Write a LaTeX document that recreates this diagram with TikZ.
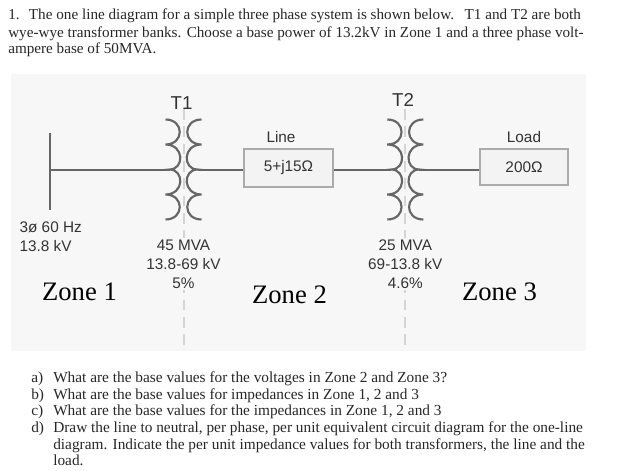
\documentclass[tikz,border=0pt]{standalone}
\usepackage{fontspec}
\usepackage{tikz}
\setmainfont{Liberation Serif}
\setsansfont{Liberation Sans}
\definecolor{panelgray}{HTML}{F7F7F7}
\definecolor{boxgray}{HTML}{F3F3F3}
\definecolor{edgegray}{HTML}{ABABAB}
\definecolor{wiregray}{HTML}{666666}
\definecolor{dashgray}{HTML}{D4D4D4}
\definecolor{labelgray}{HTML}{333333}

\begin{document}
\begin{tikzpicture}[x=0.75pt,y=-0.75pt,
    wire/.style={wiregray,line width=1.5pt},
    coil/.style={wiregray,line width=1.6pt},
    corebar/.style={dashgray,line width=1.5pt,dash pattern=on 8pt off 5pt},
    valuebox/.style={draw=edgegray,fill=boxgray,line width=0.8pt,inner sep=0pt,font=\sffamily\fontsize{11.5}{13}\selectfont,text=labelgray},
    caption/.style={font=\sffamily\fontsize{11.5}{13}\selectfont,text=labelgray,inner sep=1pt},
    rating/.style={caption,align=center,fill=panelgray,font=\sffamily\fontsize{11.5}{14.2}\selectfont},
    zonename/.style={font=\rmfamily\fontsize{20}{22}\selectfont,text=black,inner sep=0pt},
    bodyline/.style={anchor=base west,inner sep=0pt,font=\rmfamily\fontsize{11.5}{13}\selectfont,text=black!85},
    introline/.style={bodyline,font=\rmfamily\fontsize{11.38}{13}\selectfont}]
    \useasboundingbox (0,0) rectangle (633,471);
    \fill[panelgray] (11,74) rectangle (586,351);

    % transformer cores
    \draw[corebar] (183.5,109) -- (183.5,351);
    \draw[corebar] (405.3,109) -- (405.3,351);

    % transformer windings
    \foreach \tname/\tx in {t1/183.5,t2/405.3} {
        \coordinate (\tname pri) at (\tx-14,169.5);
        \coordinate (\tname sec) at (\tx+14,169.5);
        \draw[coil] (\tx-18,119.5) .. controls (\tx+1,119.5) and (\tx+1,144.5) .. (\tx-18,144.5)
            .. controls (\tx+1,144.5) and (\tx+1,169.5) .. (\tx-14,169.5)
            .. controls (\tx+1,169.5) and (\tx+1,194.5) .. (\tx-18,194.5)
            .. controls (\tx+1,194.5) and (\tx+1,219.5) .. (\tx-18,219.5);
        \draw[coil] (\tx+18,119.5) .. controls (\tx-1,119.5) and (\tx-1,144.5) .. (\tx+18,144.5)
            .. controls (\tx-1,144.5) and (\tx-1,169.5) .. (\tx+14,169.5)
            .. controls (\tx-1,169.5) and (\tx-1,194.5) .. (\tx+18,194.5)
            .. controls (\tx-1,194.5) and (\tx-1,219.5) .. (\tx+18,219.5);
    }

    % bus and boxes
    \coordinate (bustop) at (49.5,133);
    \coordinate (busend) at (49.5,210);
    \coordinate (busjoin) at (49.5,169.5);
    \node[valuebox,minimum width=66.75pt,minimum height=28.5pt] (linebox) at (288.5,168) {5+j15Ω};
    \node[valuebox,minimum width=66pt,minimum height=27pt] (loadbox) at (524,167) {200Ω};
    \draw[wire] (bustop) -- (busend);
    \draw[wire] (busjoin) -- (t1pri);
    \draw[wire] (t1sec) -- (linebox.west |- t1sec);
    \draw[wire] (linebox.east |- t2pri) -- (t2pri);
    \draw[wire] (t2sec) -- (loadbox.west |- t2sec);

    % labels
    \node[caption,font=\sffamily\fontsize{14}{16}\selectfont] (t1name) at (181.5,103) {T1};
    \node[caption,font=\sffamily\fontsize{14}{16}\selectfont] (t2name) at (403,100) {T2};
    \node[caption] (linename) at (281,137) {Line};
    \node[caption] (loadname) at (524,137) {Load};
    \node[caption,align=left,anchor=north west,font=\sffamily\fontsize{11.5}{14.2}\selectfont] (source) at (18,220) {3ø 60 Hz\\13.8 kV};
    \node[rating] (t1rating) at (183.5,264) {45 MVA\\13.8-69 kV\\5\%};
    \node[rating] (t2rating) at (405.3,264) {25 MVA\\69-13.8 kV\\4.6\%};
    \node[zonename] (zone1) at (79.5,292) {Zone 1};
    \node[zonename] (zone2) at (289.5,295) {Zone 2};
    \node[zonename] (zone3) at (499.5,292) {Zone 3};

    % question text
    \node[introline] (intro1) at (8,20) {1.\hspace{7pt}The one line diagram for a simple three phase system is shown below.\hspace{8pt}T1 and T2 are both};
    \node[introline] (intro2) at (8,37) {wye-wye transformer banks.\hspace{4pt}Choose a base power of 13.2kV in Zone 1 and a three phase volt-};
    \node[introline] (intro3) at (8,54) {ampere base of 50MVA.};
    \node[bodyline] (qa) at (31,382) {a)};
    \node[bodyline] (qatext) at (53,382) {What are the base values for the voltages in Zone 2 and Zone 3?};
    \node[bodyline] (qb) at (31,399) {b)};
    \node[bodyline] (qbtext) at (53,399) {What are the base values for impedances in Zone 1, 2 and 3};
    \node[bodyline] (qc) at (31,415.5) {c)};
    \node[bodyline] (qctext) at (53,415.5) {What are the base values for the impedances in Zone 1, 2 and 3};
    \node[bodyline] (qd) at (31,432.5) {d)};
    \node[bodyline] (qdtext) at (53,432.5) {Draw the line to neutral, per phase, per unit equivalent circuit diagram for the one-line};
    \node[bodyline] (qdtext2) at (53,449) {diagram.\hspace{4pt}Indicate the per unit impedance values for both transformers, the line and the};
    \node[bodyline] (qdtext3) at (53,465.5) {load.};
\end{tikzpicture}
\end{document}
